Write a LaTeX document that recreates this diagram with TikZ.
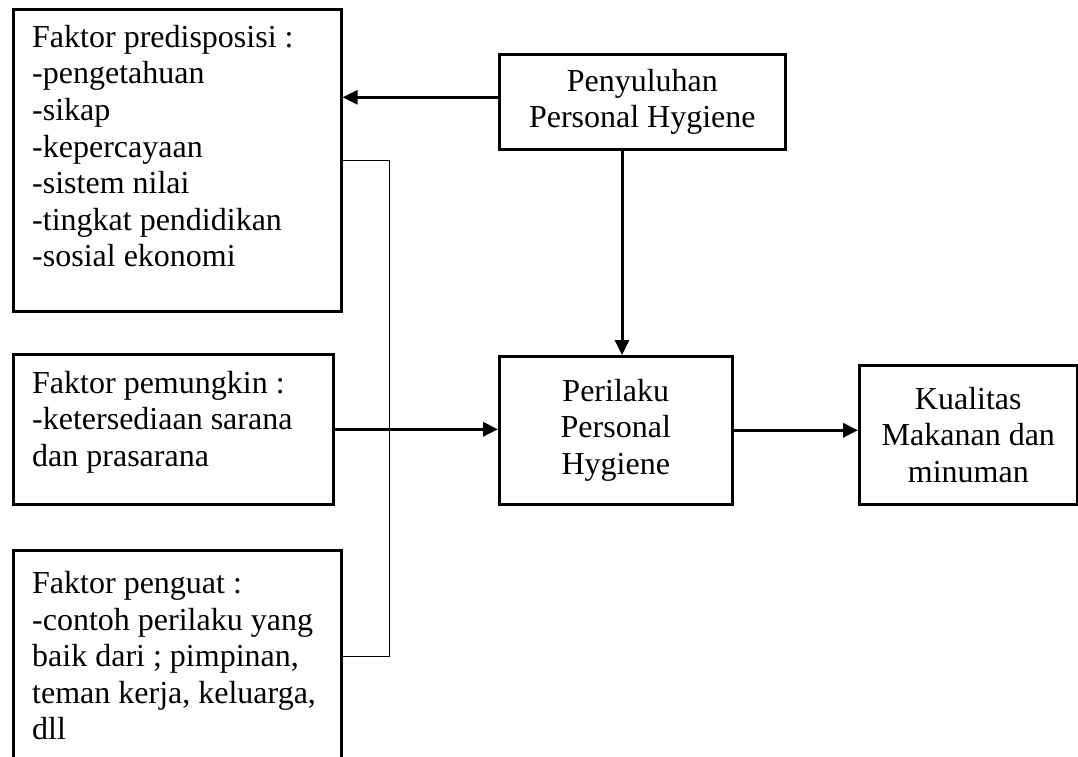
\documentclass[tikz,border=0pt]{standalone}
\usepackage{fontspec}
\setmainfont{Liberation Serif}
\usetikzlibrary{arrows.meta,calc}

\begin{document}
\begin{tikzpicture}[x=1bp,y=-1bp,
  kotak/.style={draw,line width=2.6bp,inner sep=0pt,anchor=north west},
  isi/.style={inner sep=0pt,anchor=north west,align=left,font=\fontsize{32bp}{36.6bp}\selectfont},
  tengah/.style={kotak,align=center,font=\fontsize{32bp}{36.6bp}\selectfont},
  panah/.style={line width=3bp,-{Triangle[length=15bp,width=14bp]}},
  garis/.style={line width=1bp}]
\useasboundingbox (0,0) rectangle (1078,757);
\clip (0,0) rectangle (1078,757);
\node[kotak,minimum width=328bp,minimum height=302bp] (pred) at (12,8) {};
\node[isi] (predisi) at (32,24.8) {Faktor predisposisi :\\-pengetahuan\\-sikap\\-kepercayaan\\-sistem nilai\\-tingkat pendidikan\\-sosial ekonomi};
\node[kotak,minimum width=320bp,minimum height=150bp] (pem) at (12,353) {};
\node[isi] (pemisi) at (32,370.8) {Faktor pemungkin :\\-ketersediaan sarana\\dan prasarana};
\node[kotak,minimum width=328bp,minimum height=212bp] (peng) at (12,549) {};
\node[isi] (pengisi) at (32,571) {Faktor penguat :\\-contoh perilaku yang\\baik dari ; pimpinan,\\teman kerja, keluarga,\\dll};
\node[tengah,minimum width=286bp,minimum height=95bp] (peny) at (498,53) {Penyuluhan\\Personal Hygiene};
\node[tengah,minimum width=233bp,minimum height=148bp] (peri) at (498,355) {Perilaku\\Personal\\Hygiene};
\node[tengah,minimum width=218bp,minimum height=139bp] (kual) at (858,364) {Kualitas\\Makanan dan\\minuman};
\coordinate (turun) at (622,0);
\draw[panah] ([yshift=4.5bp]peny.west) coordinate (kiri) -- (kiri -| pred.east);
\draw[panah] (peny.south -| turun) -- (peri.north -| turun);
\draw[panah] (pem.east) -- (pem.east -| peri.west);
\draw[panah] (peri.east) -- (peri.east -| kual.west);
\draw[garis] (pred.east) -- ++(47,0) |- (peng.east);
\end{tikzpicture}
\end{document}
